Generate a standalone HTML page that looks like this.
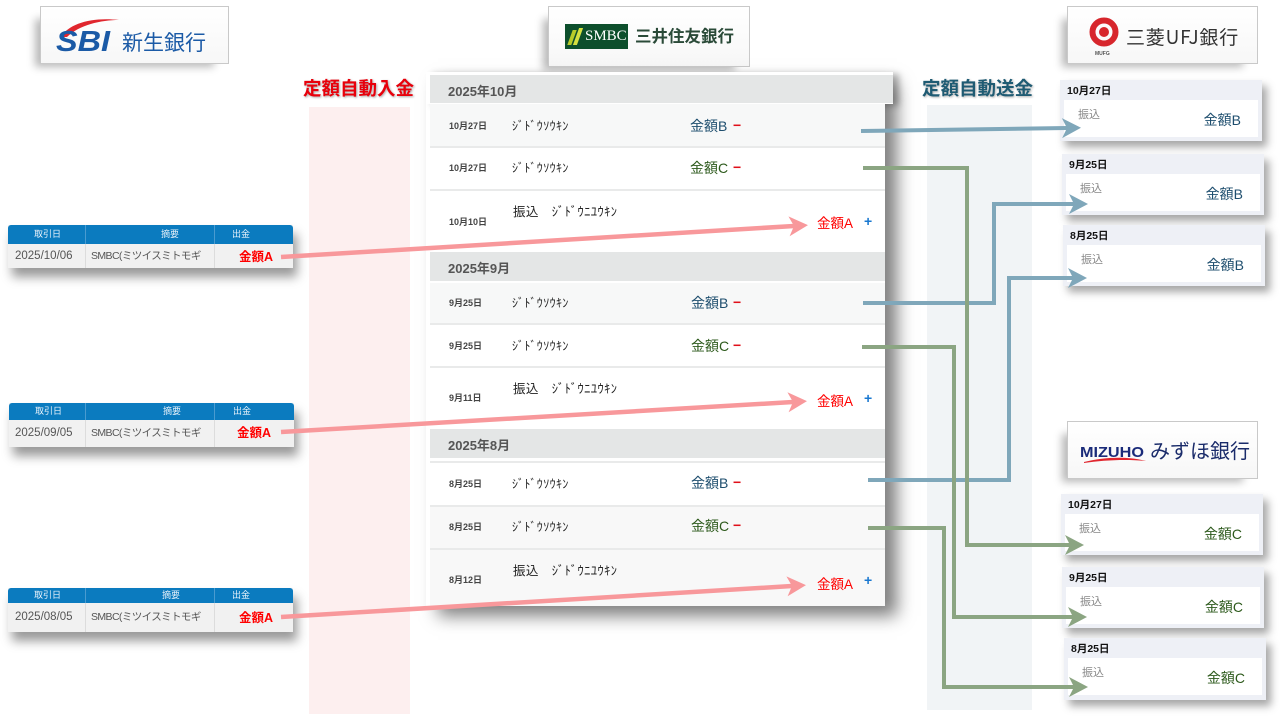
<!DOCTYPE html>
<html><head><meta charset="utf-8">
<style>
*{margin:0;padding:0;box-sizing:border-box}
body{width:1280px;height:720px;overflow:hidden;background:#fff;position:relative;font-family:"Liberation Sans","Noto Sans CJK JP",sans-serif}
.a{position:absolute;white-space:nowrap;line-height:1}
.logo{position:absolute;background:linear-gradient(#fff,#f7f7f7);border:1px solid #c9c9c9;box-shadow:-10px 8px 8px -5px rgba(0,0,0,.28)}
.hdr{position:absolute;left:430px;background:#e4e6e6;color:#555;font-weight:bold;font-size:13px}
.hdr span{position:absolute;left:18px;top:6px}
.row{position:absolute;left:430px;width:455px}
.dt{position:absolute;left:449px;font-size:9px;font-weight:bold;color:#444;line-height:1}
.kn{position:absolute;left:512px;font-size:12px;letter-spacing:.4px;color:#222;line-height:1}
.amt{position:absolute;font-size:14px;line-height:1}
.mB{color:#1e4e6e}
.mC{color:#2d5a1c}
.minus{position:absolute;left:733px;font-size:14px;font-weight:bold;color:#e0101a;line-height:1}
.plus{position:absolute;left:864px;font-size:14px;font-weight:bold;color:#1a78d0;line-height:1}
.ra{position:absolute;left:817px;font-size:13.5px;color:#f00;line-height:1}
.sep{position:absolute;left:430px;width:455px;height:2px;background:#e9eaea}
.tbl{position:absolute;width:285px;box-shadow:4px 9px 10px rgba(0,0,0,.4);background:#f1f1f1}
.th{position:absolute;left:0;top:0;width:100%;background:#0b7bbf;border-radius:3px 3px 0 0}
.th b{position:absolute;font-weight:normal;color:#e8f2fa;font-size:9px;line-height:1}
.vl{position:absolute;width:1px;background:#dcdcdc}
.tv{position:absolute;width:1px;background:#4a9bd0}
.td{position:absolute;font-size:11.5px;color:#555;line-height:1}
.ts{position:absolute;font-size:10.5px;letter-spacing:-0.6px;color:#555;line-height:1}
.ta{position:absolute;font-size:12.5px;color:#f00;font-weight:bold;line-height:1}
.card{position:absolute;width:202px;height:61px;background:#eef0f6;box-shadow:5px 6px 8px rgba(0,0,0,.35)}
.card .d{position:absolute;left:7px;top:6px;font-size:10.5px;font-weight:bold;color:#111;line-height:1}
.card .in{position:absolute;left:4px;top:20px;width:194px;height:37px;background:#fff}
.card .f{position:absolute;left:18px;top:30px;font-size:11px;color:#888;line-height:1}
.card .m{position:absolute;right:21px;top:33px;font-size:14px;line-height:1}
</style></head><body>

<!-- columns -->
<div class="a" style="left:309px;top:107px;width:101px;height:607px;background:#fdefef"></div>
<div class="a" style="left:927px;top:105px;width:105px;height:605px;background:#f1f4f6"></div>

<div class="a" style="left:303px;top:80px;font-size:18.5px;font-weight:bold;color:#e8000b;text-shadow:1px 1px 2px rgba(0,0,0,.35)">定額自動入金</div>
<div class="a" style="left:922px;top:80px;font-size:18.5px;font-weight:bold;color:#1f5b73;text-shadow:1px 1px 2px rgba(0,0,0,.3)">定額自動送金</div>

<!-- SBI logo -->
<div class="logo" style="left:40px;top:6px;width:189px;height:58px">
<svg width="187" height="56" style="position:absolute;left:0;top:0">
<path d="M20,30 C28,16 52,10 78,13 C60,13 38,18 26,30 Z" fill="#e0262e"/>
<text x="15" y="44" font-family="Liberation Sans" font-style="italic" font-weight="bold" font-size="29" fill="#1b5aa6" textLength="54" lengthAdjust="spacingAndGlyphs">SBI</text>
<text x="81" y="43" font-family="Noto Sans CJK JP" font-size="21" fill="#1b5aa6">新生銀行</text>
</svg></div>

<!-- SMBC logo -->
<div class="logo" style="left:548px;top:6px;width:202px;height:61px">
<div class="a" style="left:16px;top:17px;width:63px;height:25px;background:#0d4f2c"></div>
<div class="a" style="left:21px;top:23px;width:4px;height:15px;background:#b8cc2a;transform:skewX(-20deg)"></div>
<div class="a" style="left:27px;top:21px;width:4px;height:17px;background:#d5e040;transform:skewX(-20deg)"></div>
<div class="a" style="left:36px;top:22px;font-family:'Liberation Serif',serif;font-size:15px;color:#fff">SMBC</div>
<div class="a" style="left:86px;top:20px;font-family:'Noto Sans CJK JP',sans-serif;font-size:16.5px;font-weight:bold;color:#2a4a38">三井住友銀行</div>
</div>

<!-- MUFG logo -->
<div class="logo" style="left:1067px;top:6px;width:191px;height:58px">
<svg width="60" height="56" style="position:absolute;left:0;top:0">
<circle cx="36" cy="25" r="11.5" fill="none" stroke="#d7262c" stroke-width="6"/>
<circle cx="36" cy="25" r="5" fill="#d7262c"/>
<text x="27" y="48" font-family="Liberation Sans" font-size="5" font-weight="bold" fill="#555">MUFG</text>
</svg>
<div class="a" style="left:58px;top:20px;font-size:19px;letter-spacing:0.8px;color:#333;font-family:'Noto Sans CJK JP',sans-serif">三菱UFJ銀行</div>
</div>

<!-- Mizuho logo -->
<div class="logo" style="left:1067px;top:421px;width:191px;height:58px">
<svg width="80" height="56" style="position:absolute;left:0;top:0">
<text x="12" y="35" font-family="Liberation Sans" font-weight="bold" font-size="15" fill="#1a2b7a" textLength="64" lengthAdjust="spacingAndGlyphs">MIZUHO</text>
<path d="M16,40 C35,35 60,34 78,39 C60,37 35,38 16,41 Z" fill="#e0262e"/>
</svg>
<div class="a" style="left:82px;top:18px;font-size:20px;color:#1a2b6a;font-family:'Noto Sans CJK JP',sans-serif">みずほ銀行</div>
</div>

<!-- SMBC panel -->
<div class="a" style="left:426px;top:72px;width:459px;height:534px;background:#fff;box-shadow:12px 10px 16px rgba(0,0,0,.5)"></div>
<div class="a" style="left:426px;top:72px;width:467px;height:32px;background:#fff;box-shadow:6px 2px 6px rgba(0,0,0,.25)"></div>
<div class="hdr" style="top:75px;width:463px;height:28px"><span>2025年10月</span></div>

<div class="row" style="top:104px;height:42px;background:#f7f8f8"></div>
<div class="sep" style="top:146px"></div>
<div class="row" style="top:148px;height:41px;background:#fff"></div>
<div class="sep" style="top:189px"></div>
<div class="row" style="top:191px;height:60px;background:#fff"></div>

<div class="hdr" style="top:252px;width:455px;height:29px"><span>2025年9月</span></div>
<div class="row" style="top:283px;height:40px;background:#f7f8f8"></div>
<div class="sep" style="top:323px"></div>
<div class="row" style="top:325px;height:41px;background:#fff"></div>
<div class="sep" style="top:366px"></div>
<div class="row" style="top:368px;height:59px;background:#fff"></div>

<div class="hdr" style="top:429px;width:455px;height:29px"><span>2025年8月</span></div>
<div class="sep" style="top:461px"></div>
<div class="row" style="top:463px;height:42px;background:#fff"></div>
<div class="sep" style="top:505px"></div>
<div class="row" style="top:507px;height:41px;background:#f8f8f8"></div>
<div class="sep" style="top:548px"></div>
<div class="row" style="top:550px;height:56px;background:#f8f8f8"></div>

<!-- Oct rows -->
<div class="dt" style="top:122px">10月27日</div>
<div class="kn" style="top:120px">ｼﾞﾄﾞｳｿｳｷﾝ</div>
<div class="amt mB" style="left:690px;top:119px">金額B</div><div class="minus" style="top:118px">−</div>

<div class="dt" style="top:164px">10月27日</div>
<div class="kn" style="top:162px">ｼﾞﾄﾞｳｿｳｷﾝ</div>
<div class="amt mC" style="left:690px;top:161px">金額C</div><div class="minus" style="top:160px">−</div>

<div class="dt" style="top:218px">10月10日</div>
<div class="kn" style="left:513px;top:206px;font-size:12.5px">振込　ｼﾞﾄﾞｳﾆﾕｳｷﾝ</div>
<div class="ra" style="top:217px">金額A</div><div class="plus" style="top:214px">+</div>

<!-- Sep rows -->
<div class="dt" style="top:299px">9月25日</div>
<div class="kn" style="top:297px">ｼﾞﾄﾞｳｿｳｷﾝ</div>
<div class="amt mB" style="left:691px;top:296px">金額B</div><div class="minus" style="top:295px">−</div>

<div class="dt" style="top:342px">9月25日</div>
<div class="kn" style="top:340px">ｼﾞﾄﾞｳｿｳｷﾝ</div>
<div class="amt mC" style="left:691px;top:339px">金額C</div><div class="minus" style="top:338px">−</div>

<div class="dt" style="top:394px">9月11日</div>
<div class="kn" style="left:513px;top:383px;font-size:12.5px">振込　ｼﾞﾄﾞｳﾆﾕｳｷﾝ</div>
<div class="ra" style="top:395px">金額A</div><div class="plus" style="top:391px">+</div>

<!-- Aug rows -->
<div class="dt" style="top:480px">8月25日</div>
<div class="kn" style="top:478px">ｼﾞﾄﾞｳｿｳｷﾝ</div>
<div class="amt mB" style="left:691px;top:476px">金額B</div><div class="minus" style="top:475px">−</div>

<div class="dt" style="top:523px">8月25日</div>
<div class="kn" style="top:521px">ｼﾞﾄﾞｳｿｳｷﾝ</div>
<div class="amt mC" style="left:691px;top:519px">金額C</div><div class="minus" style="top:518px">−</div>

<div class="dt" style="top:576px">8月12日</div>
<div class="kn" style="left:513px;top:565px;font-size:12.5px">振込　ｼﾞﾄﾞｳﾆﾕｳｷﾝ</div>
<div class="ra" style="top:578px">金額A</div><div class="plus" style="top:573px">+</div>

<!-- Left tables -->
<div class="tbl" style="left:8px;top:225px;height:43px">
<div class="th" style="height:19px"><b style="left:26px;top:5px">取引日</b><b style="left:153px;top:5px">摘要</b><b style="left:224px;top:5px">出金</b></div>
<div class="tv" style="left:77px;top:0;height:19px"></div><div class="tv" style="left:206px;top:0;height:19px"></div>
<div class="vl" style="left:77px;top:19px;height:24px"></div><div class="vl" style="left:206px;top:19px;height:24px"></div>
<div class="td" style="left:7px;top:26px">2025/10/06</div>
<div class="ts" style="left:83px;top:26px">SMBC(ミツイスミトモギ</div>
<div class="ta" style="left:231px;top:26px">金額A</div>
</div>

<div class="tbl" style="left:9px;top:403px;height:44px">
<div class="th" style="height:17px"><b style="left:26px;top:4px">取引日</b><b style="left:154px;top:4px">摘要</b><b style="left:224px;top:4px">出金</b></div>
<div class="tv" style="left:76px;top:0;height:17px"></div><div class="tv" style="left:205px;top:0;height:17px"></div>
<div class="vl" style="left:76px;top:17px;height:27px"></div><div class="vl" style="left:205px;top:17px;height:27px"></div>
<div class="td" style="left:6px;top:25px">2025/09/05</div>
<div class="ts" style="left:82px;top:25px">SMBC(ミツイスミトモギ</div>
<div class="ta" style="left:228px;top:24px">金額A</div>
</div>

<div class="tbl" style="left:8px;top:588px;height:44px">
<div class="th" style="height:15px"><b style="left:26px;top:3px">取引日</b><b style="left:154px;top:3px">摘要</b><b style="left:224px;top:3px">出金</b></div>
<div class="tv" style="left:77px;top:0;height:15px"></div><div class="tv" style="left:206px;top:0;height:15px"></div>
<div class="vl" style="left:77px;top:15px;height:29px"></div><div class="vl" style="left:206px;top:15px;height:29px"></div>
<div class="td" style="left:7px;top:24px">2025/08/05</div>
<div class="ts" style="left:83px;top:24px">SMBC(ミツイスミトモギ</div>
<div class="ta" style="left:231px;top:24px">金額A</div>
</div>

<!-- MUFG cards -->
<div class="card" style="left:1060px;top:80px"><div class="d">10月27日</div><div class="in"></div><div class="f">振込</div><div class="m mB">金額B</div></div>
<div class="card" style="left:1062px;top:154px"><div class="d">9月25日</div><div class="in"></div><div class="f">振込</div><div class="m mB">金額B</div></div>
<div class="card" style="left:1063px;top:225px"><div class="d">8月25日</div><div class="in"></div><div class="f">振込</div><div class="m mB">金額B</div></div>

<!-- Mizuho cards -->
<div class="card" style="left:1061px;top:494px"><div class="d">10月27日</div><div class="in"></div><div class="f">振込</div><div class="m mC">金額C</div></div>
<div class="card" style="left:1062px;top:567px"><div class="d">9月25日</div><div class="in"></div><div class="f">振込</div><div class="m mC">金額C</div></div>
<div class="card" style="left:1064px;top:638px;height:62px"><div class="d">8月25日</div><div class="in"></div><div class="f">振込</div><div class="m mC">金額C</div></div>

<!-- connectors -->
<svg class="a" style="left:0;top:0" width="1280" height="720">
<defs>
<marker id="mp" markerUnits="userSpaceOnUse" markerWidth="24" markerHeight="24" viewBox="-2 -12 24 24" refX="5" refY="0" orient="auto"><path d="M0,-10 L19,0 L0,10 L5,0Z" fill="#f8989b"/></marker>
<marker id="mb" markerUnits="userSpaceOnUse" markerWidth="24" markerHeight="24" viewBox="-2 -12 24 24" refX="5" refY="0" orient="auto"><path d="M0,-10 L19,0 L0,10 L5,0Z" fill="#7fa7ba"/></marker>
<marker id="mg" markerUnits="userSpaceOnUse" markerWidth="24" markerHeight="24" viewBox="-2 -12 24 24" refX="5" refY="0" orient="auto"><path d="M0,-10 L19,0 L0,10 L5,0Z" fill="#8ba582"/></marker>
</defs>
<g fill="none" stroke-width="4.5" stroke="#f8989b">
<path d="M281,257 L794,226" marker-end="url(#mp)"/>
<path d="M281,432 L793,402" marker-end="url(#mp)"/>
<path d="M281,617 L792,586" marker-end="url(#mp)"/>
</g>
<g fill="none" stroke-width="4" stroke="#7fa7ba">
<path d="M861,131 L1067,128" marker-end="url(#mb)"/>
<path d="M863,303 L994,303 L994,204 L1074,204" marker-end="url(#mb)"/>
<path d="M868,480 L1009,480 L1009,278 L1073,278" marker-end="url(#mb)"/>
</g>
<g fill="none" stroke-width="4" stroke="#8ba582">
<path d="M863,168 L967,168 L967,545 L1070,545" marker-end="url(#mg)"/>
<path d="M862,347 L954,347 L954,617 L1073,617" marker-end="url(#mg)"/>
<path d="M868,528 L944,528 L944,687 L1074,687" marker-end="url(#mg)"/>
</g>
</svg>
</body></html>
